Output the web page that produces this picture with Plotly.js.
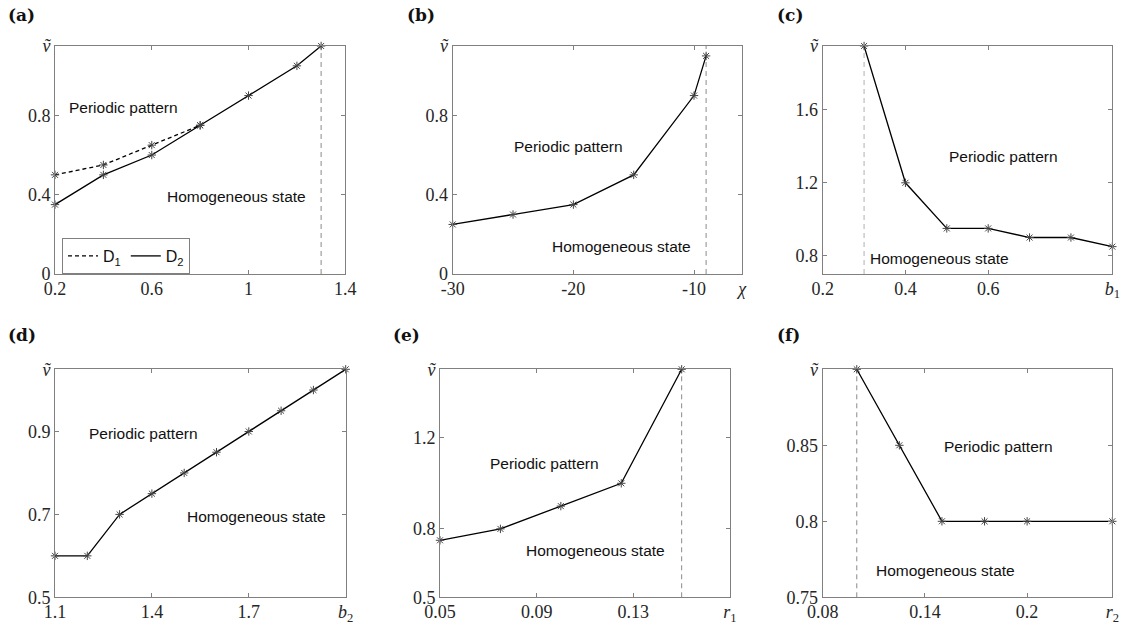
<!DOCTYPE html>
<html>
<head>
<meta charset="utf-8">
<script src="https://cdn.plot.ly/plotly-3.0.1.min.js"></script>
<style>html,body{margin:0;padding:0;background:#fff;}#chart{width:1131px;height:625px;}</style>
</head>
<body>
<div id="chart"></div>
<script>
// ---------------- data ----------------
// (a)
const a_x  = [0.2, 0.4, 0.6, 0.8, 1.0, 1.2, 1.3];
const a_D2 = [0.35, 0.5, 0.6, 0.75, 0.9, 1.05, 1.15];
const a_D1x = [0.2, 0.4, 0.6, 0.8];
const a_D1 = [0.5, 0.55, 0.65, 0.75];
const a_crit = 1.3;
// (b)
const b_x = [-30, -25, -20, -15, -10, -9];
const b_y = [0.25, 0.30, 0.35, 0.50, 0.90, 1.10];
const b_crit = -9;
// (c)
const c_x = [0.3, 0.4, 0.5, 0.6, 0.7, 0.8, 0.9];
const c_y = [1.95, 1.2, 0.95, 0.95, 0.9, 0.9, 0.85];
const c_crit = 0.3;
// (d)
const d_x = [1.1, 1.2, 1.3, 1.4, 1.5, 1.6, 1.7, 1.8, 1.9, 2.0];
const d_y = [0.6, 0.6, 0.7, 0.75, 0.8, 0.85, 0.9, 0.95, 1.0, 1.05];
// (e)
const e_x = [0.05, 0.075, 0.1, 0.125, 0.15];
const e_y = [0.75, 0.8, 0.9, 1.0, 1.5];
const e_crit = 0.15;
// (f)
const f_x = [0.1, 0.125, 0.15, 0.175, 0.2, 0.25];
const f_y = [0.9, 0.85, 0.8, 0.8, 0.8, 0.8];
const f_crit = 0.1;

// tick labels
const VT = '<i>\u1E7D</i>';
const a_xt = ['0.2', '0.6', '1', '1.4'];            const a_xv = [0.2, 0.6, 1.0, 1.4];
const a_yt = ['0', '0.4', '0.8', VT];               const a_yv = [0, 0.4, 0.8, 1.15];
const b_xt = ['-30', '-20', '-10', '<i>\u03C7</i>']; const b_xv = [-30, -20, -10, -6];
const b_yt = ['0', '0.4', '0.8', VT];               const b_yv = [0, 0.4, 0.8, 1.15];
const c_xt = ['0.2', '0.4', '0.6', '<i>b</i><sub>1</sub>']; const c_xv = [0.2, 0.4, 0.6, 0.9];
const c_yt = ['0.8', '1.2', '1.6', VT];             const c_yv = [0.8, 1.2, 1.6, 1.95];
const d_xt = ['1.1', '1.4', '1.7', '<i>b</i><sub>2</sub>']; const d_xv = [1.1, 1.4, 1.7, 2.0];
const d_yt = ['0.5', '0.7', '0.9', VT];             const d_yv = [0.5, 0.7, 0.9, 1.05];
const e_xt = ['0.05', '0.09', '0.13', '<i>r</i><sub>1</sub>']; const e_xv = [0.05, 0.09, 0.13, 0.17];
const e_yt = ['0.5', '0.8', '1.2', VT];             const e_yv = [0.5, 0.8, 1.2, 1.5];
const f_xt = ['0.08', '0.14', '0.2', '<i>r</i><sub>2</sub>']; const f_xv = [0.08, 0.14, 0.2, 0.25];
const f_yt = ['0.75', '0.8', '0.85', VT];           const f_yv = [0.75, 0.8, 0.85, 0.9];

const panelLabels = ['(a)', '(b)', '(c)', '(d)', '(e)', '(f)'];
const regionTexts = ['Periodic pattern', 'Homogeneous state'];
const legendNames = ['D<sub>1</sub>', 'D<sub>2</sub>'];

// ---------------- layout helpers ----------------
const W = 1131, H = 625;
const px = v => v / W;
const py = v => 1 - v / H;

const panels = [
  {xs: a_x,  ys: a_D2, xr: [0.2, 1.4], yr: [0, 1.15],   xv: a_xv, xt: a_xt, yv: a_yv, yt: a_yt, crit: a_crit, dom: [55, 345.3, 46, 274], lab: [6, 15], per: [123.7, 107.5], hom: [236, 196.7], cc: '#8a8a8a'},
  {xs: b_x,  ys: b_y,  xr: [-30, -6], yr: [0, 1.15],    xv: b_xv, xt: b_xt, yv: b_yv, yt: b_yt, crit: b_crit, dom: [452.7, 742.3, 46, 274], lab: [405, 15], per: [568.8, 146.7], hom: [621, 246.7], cc: '#8a8a8a'},
  {xs: c_x,  ys: c_y,  xr: [0.2, 0.9], yr: [0.7, 1.95], xv: c_xv, xt: c_xt, yv: c_yv, yt: c_yt, crit: c_crit, dom: [822.7, 1112.3, 46, 274], lab: [775, 15], per: [1003, 156.7], hom: [939.7, 258.3], cc: '#b0b0b0'},
  {xs: d_x,  ys: d_y,  xr: [1.1, 2.0], yr: [0.5, 1.05], xv: d_xv, xt: d_xt, yv: d_yv, yt: d_yt, crit: null,   dom: [55, 345.7, 369.3, 597.3], lab: [6, 335], per: [143.3, 433.3], hom: [256, 516.7], cc: '#8a8a8a'},
  {xs: e_x,  ys: e_y,  xr: [0.05, 0.17], yr: [0.5, 1.5], xv: e_xv, xt: e_xt, yv: e_yv, yt: e_yt, crit: e_crit, dom: [440, 730, 369.3, 597.3], lab: [391, 335], per: [544.2, 463.3], hom: [595.5, 550], cc: '#8a8a8a'},
  {xs: f_x,  ys: f_y,  xr: [0.08, 0.25], yr: [0.75, 0.9], xv: f_xv, xt: f_xt, yv: f_yv, yt: f_yt, crit: f_crit, dom: [822.7, 1112.3, 369.3, 597.3], lab: [775, 335], per: [998.3, 446.7], hom: [945.5, 570], cc: '#8a8a8a'}
];

const AXC = '#808080';
const SERIF = 'Liberation Serif';
const SANS = 'Liberation Sans';
const annFont = {family: SANS, size: 15.5, color: '#111'};
const markerStyle = {symbol: 'asterisk-open', size: 7, color: '#444', line: {color: '#444', width: 1}};

const traces = [];
const layout = {
  width: W, height: H,
  margin: {l: 0, r: 0, t: 0, b: 0, pad: 0},
  paper_bgcolor: '#fff', plot_bgcolor: '#fff',
  font: {family: SERIF},
  showlegend: true,
  legend: {
    x: px(62), y: py(238), xanchor: 'left', yanchor: 'top',
    orientation: 'h', bordercolor: AXC, borderwidth: 1, bgcolor: '#fff',
    font: {family: SANS, size: 16, color: '#111'},
    itemwidth: 30, tracegroupgap: 0, traceorder: 'normal'
  },
  annotations: []
};

panels.forEach((p, i) => {
  const n = i === 0 ? '' : String(i + 1);
  const xa = 'x' + n, ya = 'y' + n;
  const xk = 'xaxis' + n, yk = 'yaxis' + n;
  const mk = () => ({
    showgrid: false, zeroline: false, showline: true, linecolor: AXC, linewidth: 1,
    mirror: 'allticks', ticks: 'inside', ticklen: 4, tickcolor: AXC, tickwidth: 1,
    tickmode: 'array', tickfont: {family: SERIF, size: 18, color: '#262626'}, fixedrange: true
  });
  layout[xk] = Object.assign(mk(), {
    domain: [px(p.dom[0]), px(p.dom[1])], range: p.xr, anchor: ya,
    tickvals: p.xv, ticktext: p.xt, ticklabelstandoff: -2
  });
  layout[yk] = Object.assign(mk(), {
    domain: [py(p.dom[3]), py(p.dom[2])], range: p.yr, anchor: xa,
    tickvals: p.yv, ticktext: p.yt
  });

  // critical dashed line
  if (p.crit !== null) {
    traces.push({
      x: [p.crit, p.crit], y: p.yr, xaxis: xa, yaxis: ya, mode: 'lines',
      line: {color: p.cc, width: 1, dash: '5px,4px'}, showlegend: false, hoverinfo: 'skip'
    });
  }
  // main curve (D2 in panel a)
  traces.push({
    x: p.xs, y: p.ys, xaxis: xa, yaxis: ya, mode: 'lines',
    line: {color: '#000', width: 1.3}, name: legendNames[1],
    showlegend: i === 0, legendrank: 2
  });
  traces.push({
    x: p.xs, y: p.ys, xaxis: xa, yaxis: ya, mode: 'markers',
    marker: markerStyle, showlegend: false, cliponaxis: false
  });

  layout.annotations.push({
    xref: 'paper', yref: 'paper', x: px(p.lab[0]), y: py(p.lab[1]), xanchor: 'left', yanchor: 'middle',
    text: '<b>' + panelLabels[i] + '</b>', showarrow: false,
    font: {family: 'DejaVu Serif', size: 17, color: '#111'}
  });
  layout.annotations.push({
    xref: 'paper', yref: 'paper', x: px(p.per[0]), y: py(p.per[1]), xanchor: 'center', yanchor: 'middle',
    text: regionTexts[0], showarrow: false, font: annFont
  });
  layout.annotations.push({
    xref: 'paper', yref: 'paper', x: px(p.hom[0]), y: py(p.hom[1]), xanchor: 'center', yanchor: 'middle',
    text: regionTexts[1], showarrow: false, font: annFont
  });
});

// panel (a) D1 dashed curve
traces.push({
  x: a_D1x, y: a_D1, xaxis: 'x', yaxis: 'y', mode: 'lines', name: legendNames[0],
  line: {color: '#000', width: 1.3, dash: '4px,3px'}, showlegend: true, legendrank: 1
});
traces.push({
  x: a_D1x, y: a_D1, xaxis: 'x', yaxis: 'y', mode: 'markers',
  marker: markerStyle, showlegend: false, cliponaxis: false
});

Plotly.newPlot('chart', traces, layout, {displayModeBar: false, staticPlot: true});
</script>
</body>
</html>
